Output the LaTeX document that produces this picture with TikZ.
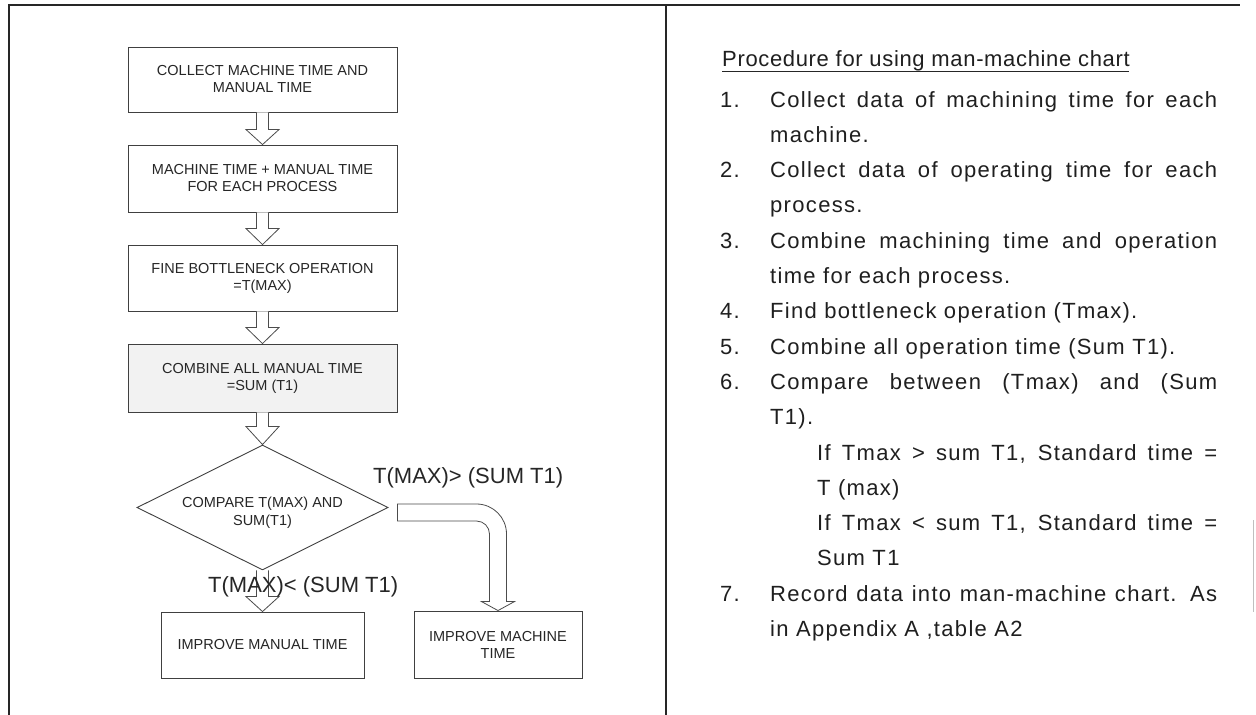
\documentclass[tikz,border=0pt]{standalone}
\usepackage{fontspec}
\setmainfont{Liberation Sans}
\newfontfamily\rtfont[LetterSpace=6]{Liberation Sans}
\newfontfamily\hdfont[LetterSpace=3]{Liberation Sans}
\usetikzlibrary{calc,shapes.geometric}
\newcommand{\vblock}[3]{\draw[blockarrow] ($(#1)+(-6,0)$) -- ($(#2)+(-6,-#3)$) -- ($(#2)+(-16.5,-#3)$) -- (#2) -- ($(#2)+(16.5,-#3)$) -- ($(#2)+(6,-#3)$) -- ($(#1)+(6,0)$);}
\begin{document}
\begin{tikzpicture}[x=1pt,y=-1pt,
  box/.style={draw=black!75, line width=0.9pt, fill=white, minimum width=269pt, minimum height=66pt, inner sep=0pt, align=center, font=\fontsize{14.5}{17}\selectfont, text=black!85},
  blockarrow/.style={draw=black!70, line width=0.8pt, fill=white, line join=miter},
  lbl/.style={font=\fontsize{22}{26}\selectfont, text=black!85, inner sep=0pt},
  rt/.style={font=\rtfont\fontsize{22}{26}\selectfont, text=black!88, inner sep=0pt, anchor=base west},
  frame/.style={line width=1.6pt, draw=black!85}]
\useasboundingbox (0,0) rectangle (1256,715);
\fill[white] (0,0) rectangle (1256,715);
% frame
\draw[frame] (8,5) -- (1240,5);
\draw[frame] (9,5) -- (9,715);
\draw[frame] (666,5) -- (666,715);
\draw[gray!50, line width=1pt] (1253,520) -- (1253,612);
% flowchart
\node[box, minimum height=65pt] (b1) at (262.5,79.5) {COLLECT MACHINE TIME AND\\MANUAL TIME};
\node[box, minimum height=67pt] (b2) at (262.5,178.5) {MACHINE TIME + MANUAL TIME\\FOR EACH PROCESS};
\node[box, minimum height=66pt] (b3) at (262.5,278) {FINE BOTTLENECK OPERATION\\=T(MAX)};
\node[box, minimum height=68pt, fill=black!5] (b4) at (262.5,378) {COMBINE ALL MANUAL TIME\\=SUM (T1)};
\node[draw=black!75, line width=0.9pt, fill=white, shape=diamond, aspect=2, minimum width=251pt, minimum height=125pt, inner sep=0pt] (dia) at (262.5,507.5) {};
\node[align=center, inner sep=0pt, font=\fontsize{14.5}{18}\selectfont, text=black!85] (dtx) at (262.5,512.5) {COMPARE T(MAX) AND\\SUM(T1)};
\node[box, minimum width=203pt, minimum height=66pt] (b5) at (262.5,645) {IMPROVE MANUAL TIME};
\node[box, minimum width=168pt, minimum height=67pt] (b6) at (498,644.5) {IMPROVE MACHINE\\TIME};
% block arrows
\vblock{b1.south}{b2.north}{15}
\vblock{b2.south}{b3.north}{16}
\vblock{b3.south}{b4.north}{16}
\vblock{b4.south}{dia.north}{18}
\vblock{dia.south}{b5.north}{15}
\coordinate (S) at ($(dia.east)+(9,5)$);
\coordinate (E) at (b6.north);
\draw[blockarrow] ($(S)+(0,-8.5)$) -- ($(S -| E)+(-21.5,-8.5)$)
   arc[start angle=90, end angle=0, radius=30pt]
   -- ($(E)+(8.5,-9)$) -- ($(E)+(16.5,-9)$) -- (E) -- ($(E)+(-16.5,-9)$) -- ($(E)+(-8.5,-9)$)
   -- ($(S -| E)+(-8.5,21.5)$)
   arc[start angle=0, end angle=90, radius=13pt]
   -- ($(S)+(0,8.5)$) -- cycle;
% labels
\node[lbl, anchor=west] (gt) at (373,478) {T(MAX)> (SUM T1)};
\node[lbl, anchor=west] (lt) at (208,587) {T(MAX)< (SUM T1)};
% right column
\node[rt, font=\hdfont\fontsize{22}{26}\selectfont] (hd) at (722,66) {Procedure for using man-machine chart};
\draw[black!85, line width=0.8pt] ($(hd.base west)+(0,5)$) -- ($(hd.base east)+(-0.7,5)$);
\node[rt] (n1) at (720,107) {1.};
\node[rt] (t1) at (770,107) {\makebox[447pt][s]{Collect data of machining time for each}};
\node[rt] (t1b) at (770,142.3) {machine.};
\node[rt] (n2) at (720,177.6) {2.};
\node[rt] (t2) at (770,177.6) {\makebox[447pt][s]{Collect data of operating time for each}};
\node[rt] (t2b) at (770,212.9) {process.};
\node[rt] (n3) at (720,248.2) {3.};
\node[rt] (t3) at (770,248.2) {\makebox[447pt][s]{Combine machining time and operation}};
\node[rt] (t3b) at (770,283.5) {time for each process.};
\node[rt] (n4) at (720,318.8) {4.};
\node[rt] (t4) at (770,318.8) {Find bottleneck operation (Tmax).};
\node[rt] (n5) at (720,354.1) {5.};
\node[rt] (t5) at (770,354.1) {Combine all operation time (Sum T1).};
\node[rt] (n6) at (720,389.4) {6.};
\node[rt] (t6) at (770,389.4) {\makebox[447pt][s]{Compare between (Tmax) and (Sum}};
\node[rt] (t6b) at (770,424.7) {T1).};
\node[rt] (i1) at (817,460) {\makebox[400pt][s]{If Tmax > sum T1, Standard time =}};
\node[rt] (i1b) at (817,495.3) {T (max)};
\node[rt] (i2) at (817,530.6) {\makebox[400pt][s]{If Tmax < sum T1, Standard time =}};
\node[rt] (i2b) at (817,565.9) {Sum T1};
\node[rt] (n7) at (720,601.2) {7.};
\node[rt] (t7) at (770,601.2) {\makebox[447pt][s]{Record data into man-machine chart. As}};
\node[rt] (t7b) at (770,636.5) {in Appendix A ,table A2};
\end{tikzpicture}
\end{document}
